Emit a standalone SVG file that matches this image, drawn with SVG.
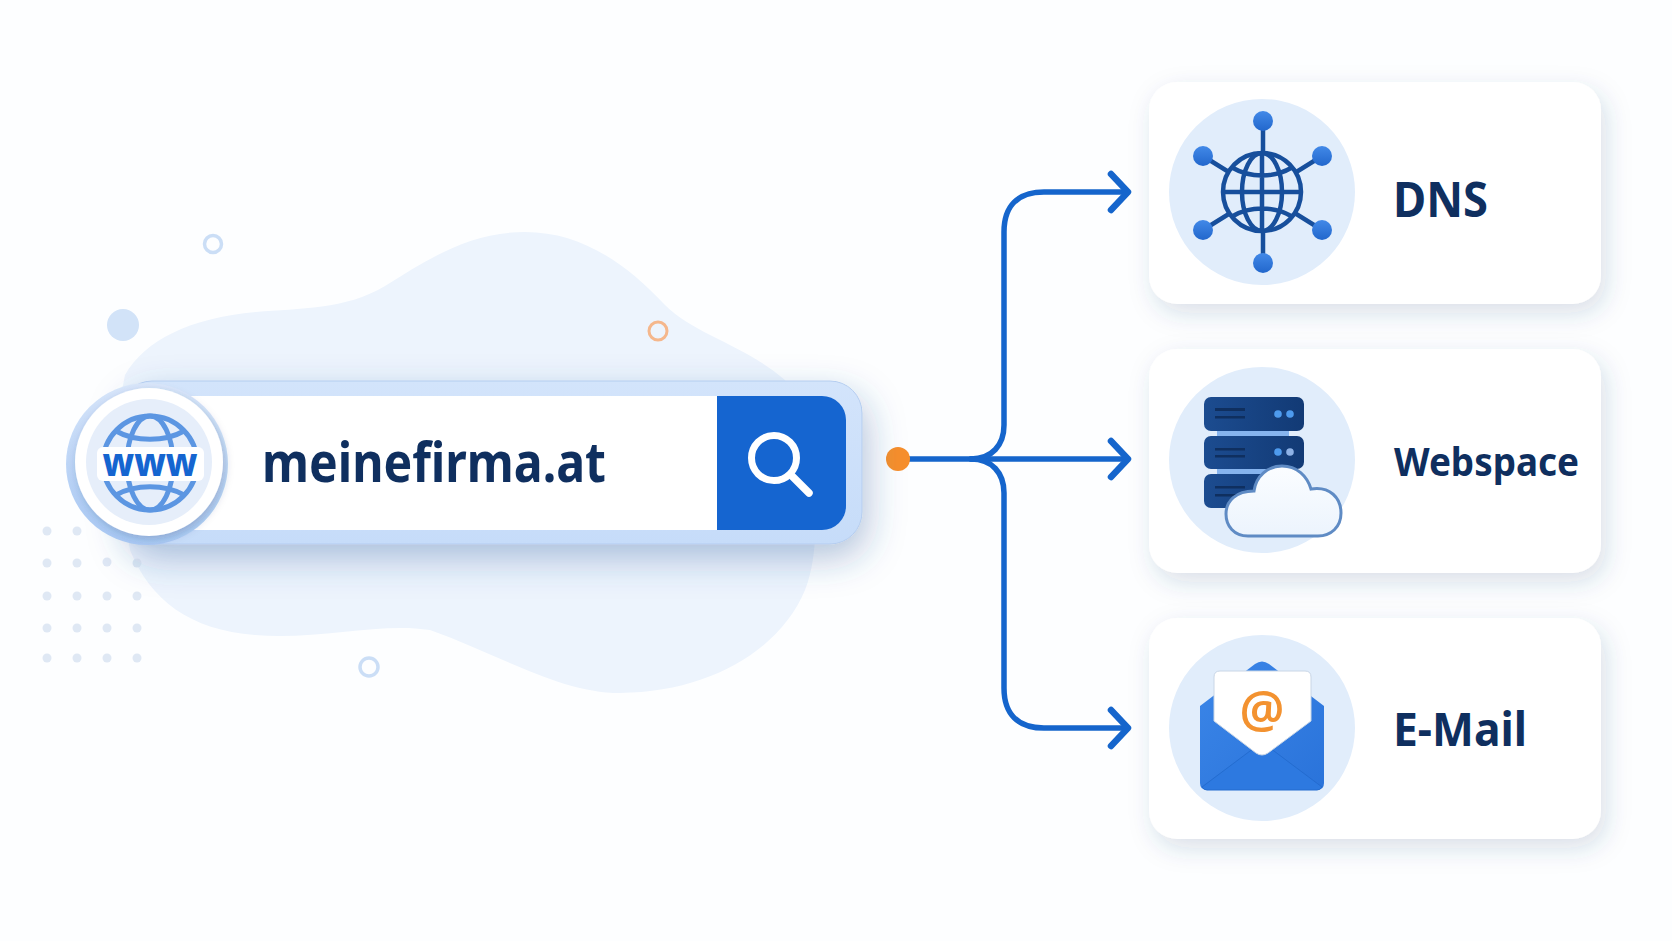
<svg xmlns="http://www.w3.org/2000/svg" width="1672" height="941" viewBox="0 0 1672 941">
<defs>
<style>
.lbl{font-family:"Noto Sans","Liberation Sans",sans-serif;font-weight:700;fill:#0f2f5f}
.conn{fill:none;stroke:#1565cc;stroke-width:5.5;stroke-linecap:round;stroke-linejoin:round}
.head{stroke-width:6.5}
.ring{fill:none;stroke:#cbdef6;stroke-width:3.5}
.dot{fill:#dfe8f4}
.card{fill:#fff;filter:url(#cardShadow)}
.disc{fill:#e1edfb}
.d{fill:none;stroke:#174f9c;stroke-width:4.5}
.gw{fill:none;stroke:#5c96e2;stroke-width:5}
.n{fill:url(#nodeG)}
.srv{fill:url(#srvG)}
</style>
<filter id="cardShadow" x="-15%" y="-20%" width="130%" height="150%"><feDropShadow dx="5" dy="9" stdDeviation="12" flood-color="#26477a" flood-opacity=".17"/></filter>
<filter id="barShadow" x="-10%" y="-30%" width="120%" height="200%"><feDropShadow dx="5" dy="14" stdDeviation="18" flood-color="#2c5796" flood-opacity=".34"/></filter>
<filter id="circShadow" x="-20%" y="-20%" width="140%" height="140%"><feDropShadow dx="2" dy="3" stdDeviation="4" flood-color="#1f3a66" flood-opacity=".25"/></filter>
<linearGradient id="nodeG" x1="0" y1="0" x2="0" y2="1"><stop offset="0" stop-color="#4289e8"/><stop offset="1" stop-color="#2267cc"/></linearGradient>
<linearGradient id="srvG" x1="0" y1="0" x2="1" y2="0"><stop offset="0" stop-color="#1c4c90"/><stop offset="1" stop-color="#123a75"/></linearGradient>
<linearGradient id="barG" x1="0" y1="0" x2="0" y2="1"><stop offset="0" stop-color="#d3e4fb"/><stop offset="1" stop-color="#c6dcf9"/></linearGradient>
<linearGradient id="ringG" x1="0.6" y1="0" x2="0.4" y2="1"><stop offset="0" stop-color="#dbe8fb"/><stop offset="1" stop-color="#a9c9f4"/></linearGradient>
<linearGradient id="cloudG" x1="0" y1="0" x2="0" y2="1"><stop offset="0" stop-color="#fbfdff"/><stop offset="1" stop-color="#ecf4fd"/></linearGradient>
<linearGradient id="envG" x1="0" y1="0" x2="1" y2="1"><stop offset="0" stop-color="#3b86e8"/><stop offset="1" stop-color="#2a73da"/></linearGradient>
</defs>
<rect width="1672" height="941" fill="#fdfeff"/>
<g id="background">
<path fill="#edf4fd" d="M125 375C145 340 190 318 256 312C300 308 345 310 385 286C430 258 470 232 525 232C580 232 625 262 665 305C695 335 745 345 785 380C815 450 825 540 805 590C780 650 710 692 620 693C560 693 500 655 430 630C380 622 320 640 255 635C190 630 150 600 130 550C120 490 115 420 125 375Z"/>
<circle cx="213" cy="244" r="8.5" class="ring"/>
<circle cx="123" cy="325" r="16" fill="#d2e3f8"/>
<circle cx="658" cy="331" r="9" fill="none" stroke="#f5b78c" stroke-width="3"/>
<circle cx="369" cy="667" r="9" class="ring"/>
<g id="dots">
<circle class="dot" cx="47" cy="531" r="4.5"/><circle class="dot" cx="77" cy="531" r="4.5"/>
<circle class="dot" cx="47" cy="563" r="4.5"/><circle class="dot" cx="77" cy="563" r="4.5"/><circle class="dot" cx="107" cy="562" r="4.5"/><circle class="dot" cx="137" cy="563" r="4.5"/>
<circle class="dot" cx="47" cy="596" r="4.5"/><circle class="dot" cx="77" cy="596" r="4.5"/><circle class="dot" cx="107" cy="596" r="4.5"/><circle class="dot" cx="137" cy="596" r="4.5"/>
<circle class="dot" cx="47" cy="628" r="4.5"/><circle class="dot" cx="77" cy="628" r="4.5"/><circle class="dot" cx="107" cy="628" r="4.5"/><circle class="dot" cx="137" cy="628" r="4.5"/>
<circle class="dot" cx="47" cy="658" r="4.5"/><circle class="dot" cx="77" cy="658" r="4.5"/><circle class="dot" cx="107" cy="658" r="4.5"/><circle class="dot" cx="137" cy="658" r="4.5"/>
</g>
</g>
<g id="connectors">
<path class="conn" d="M905 459H1126"/>
<path class="conn" d="M971 459C992 459 1004 445 1004 425V232C1004 206 1018 192 1044 192H1126"/>
<path class="conn" d="M971 459C992 459 1004 473 1004 493V688C1004 714 1018 728 1044 728H1126"/>
<path class="conn head" d="M1111 174L1128 192L1111 210"/>
<path class="conn head" d="M1111 441L1128 459L1111 477"/>
<path class="conn head" d="M1111 710L1128 728L1111 746"/>
<circle cx="898" cy="459" r="12" fill="#f78f2b"/>
</g>
<g id="search-bar">
<rect x="120" y="381" width="742" height="163" rx="32" fill="url(#barG)" stroke="#b4cdf0" stroke-width="1" filter="url(#barShadow)"/>
<rect x="180" y="396" width="560" height="134" fill="#fff"/>
<path d="M717 396H822A24 24 0 0 1 846 420V506A24 24 0 0 1 822 530H717Z" fill="#1565d0"/>
<circle cx="774" cy="458" r="22.5" fill="none" stroke="#fff" stroke-width="7"/>
<path d="M792 476L809 493" stroke="#fff" stroke-width="7.5" stroke-linecap="round"/>
<text class="lbl" x="262" y="482" font-size="55" textLength="344" lengthAdjust="spacingAndGlyphs">meinefirma.at</text>
<circle cx="147" cy="464" r="81" fill="url(#ringG)"/>
<circle cx="149" cy="462" r="74" fill="#fff" filter="url(#circShadow)"/>
<circle cx="149" cy="462" r="63" fill="#e6eefa"/>
<g id="www-globe">
<circle class="gw" cx="150" cy="463" r="47"/>
<ellipse class="gw" cx="150" cy="463" rx="23" ry="47"/>
<path class="gw" d="M116 431C135 442 165 442 184 431"/>
<path class="gw" d="M116 495C135 484 165 484 184 495"/>
<rect x="97" y="447" width="107" height="34" rx="6" fill="#fff"/>
<text x="150" y="476" text-anchor="middle" font-family="Noto Sans,sans-serif" font-weight="800" font-size="39" fill="#1565d0" textLength="95" lengthAdjust="spacingAndGlyphs">www</text>
</g>
</g>
<g id="node-dns">
<rect class="card" x="1149" y="82" width="452" height="222" rx="28"/>
<circle class="disc" cx="1262" cy="192" r="93"/>
<path class="d" d="M1263 121V263M1203 156L1322 230M1322 156L1203 230"/>
<circle class="d" cx="1262" cy="192" r="39" style="fill:#e1edfb"/>
<ellipse class="d" cx="1262" cy="192" rx="20" ry="39"/>
<path class="d" d="M1262 153V231M1223 192H1301M1233 168C1250 178 1274 178 1291 168M1233 216C1250 206 1274 206 1291 216"/>
<circle class="n" cx="1263" cy="121" r="10"/><circle class="n" cx="1263" cy="263" r="10"/>
<circle class="n" cx="1203" cy="156" r="10"/><circle class="n" cx="1322" cy="156" r="10"/>
<circle class="n" cx="1203" cy="230" r="10"/><circle class="n" cx="1322" cy="230" r="10"/>
<text class="lbl" x="1393" y="217" font-size="48" textLength="95" lengthAdjust="spacingAndGlyphs">DNS</text>
</g>
<g id="node-webspace">
<rect class="card" x="1149" y="349" width="452" height="224" rx="28"/>
<circle class="disc" cx="1262" cy="460" r="93"/>
<rect x="1217" y="429" width="72" height="8" fill="#86b4ee"/>
<rect x="1217" y="468" width="72" height="8" fill="#86b4ee"/>
<rect class="srv" x="1204" y="397" width="100" height="34" rx="7"/>
<rect class="srv" x="1204" y="436" width="100" height="33" rx="7"/>
<rect class="srv" x="1204" y="474" width="100" height="34" rx="7"/>
<g fill="#0f2f5f"><rect x="1215" y="408" width="30" height="3"/><rect x="1215" y="416" width="30" height="2.5"/><rect x="1215" y="448" width="30" height="2.5"/><rect x="1215" y="455" width="30" height="2.5"/><rect x="1215" y="486" width="30" height="2.5"/><rect x="1215" y="494" width="30" height="2.5"/></g>
<g fill="#4e9bee"><circle cx="1278" cy="414" r="3.8"/><circle cx="1290" cy="414" r="3.8"/><circle cx="1278" cy="452" r="3.8"/><circle cx="1290" cy="452" r="3.8" fill="#8eb2e6"/></g>
<path fill="url(#cloudG)" stroke="#5f8bc4" stroke-width="3" d="M1248 536C1234 536 1226 526 1226 514C1226 501 1236 491 1254 491C1256 476 1268 466 1282 466C1297 466 1307 476 1311 489C1330 486 1341 498 1341 513C1341 527 1331 536 1318 536Z"/>
<text class="lbl" x="1394" y="476" font-size="40" textLength="185" lengthAdjust="spacingAndGlyphs">Webspace</text>
</g>
<g id="node-email">
<rect class="card" x="1149" y="618" width="452" height="221" rx="28"/>
<circle class="disc" cx="1262" cy="728" r="93"/>
<path fill="url(#envG)" d="M1200 706L1255 664Q1262 659 1269 664L1324 706V783Q1324 790 1317 790H1207Q1200 790 1200 783Z"/>
<path fill="#2d79e0" stroke="#246ccf" stroke-width="1" d="M1202 787L1262 742L1322 787Q1320 790 1317 790H1207Q1204 790 1202 787Z"/>
<path fill="#fff" stroke="#c9d6e6" stroke-width="1" d="M1214 677Q1214 671 1220 671H1305Q1311 671 1311 677V721L1268 753Q1262 757 1256 753L1214 721Z"/>
<text x="1262" y="727" text-anchor="middle" font-family="Noto Sans,sans-serif" font-weight="600" font-size="50" fill="#f39230">@</text>
<text class="lbl" x="1393" y="746" font-size="47" textLength="134" lengthAdjust="spacingAndGlyphs">E-Mail</text>
</g>
</svg>
